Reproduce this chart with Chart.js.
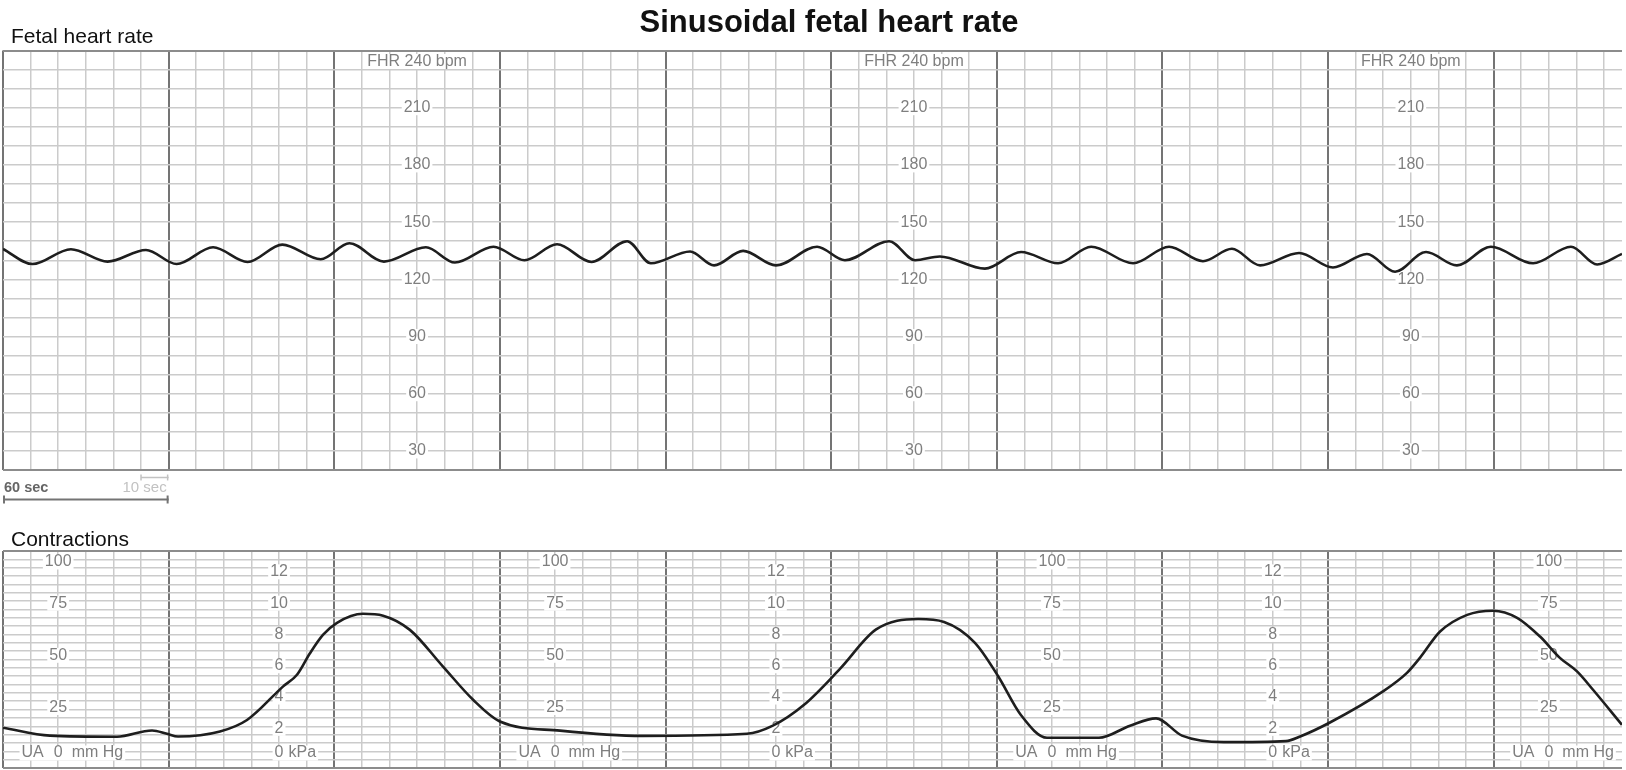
<!DOCTYPE html>
<html>
<head>
<meta charset="utf-8">
<title>Sinusoidal fetal heart rate</title>
<script src="https://cdn.jsdelivr.net/npm/chart.js@4.4.1/dist/chart.umd.min.js"></script>
<style>
  html, body { margin:0; padding:0; background:#ffffff; }
  body { position:relative; width:1626px; height:770px; overflow:hidden; font-family:"Liberation Sans", Arial, Helvetica, sans-serif; }
  canvas { position:absolute; left:0; }
  #c1 { top:0; }
  #c2 { top:515px; }
  .txt { position:absolute; white-space:nowrap; color:#111; z-index:2; }
  #title { left:0; width:1658px; text-align:center; top:5.5px; font-size:31px; line-height:31px; font-weight:bold; }
  #fhrLabel { left:11px; top:25px; font-size:21px; line-height:21px; }
  #ucLabel { left:11px; top:528px; font-size:21px; line-height:21px; }
</style>
</head>
<body>
<div class="txt" id="title">Sinusoidal fetal heart rate</div>
<div class="txt" id="fhrLabel">Fetal heart rate</div>
<div class="txt" id="ucLabel">Contractions</div>
<canvas id="c1" width="1626" height="515"></canvas>
<canvas id="c2" width="1626" height="255"></canvas>
<script>
// ---------------- data (time in seconds along the strip) ----------------
const fhrSeconds = [0, 10.7, 24.6, 37.9, 51.8, 62.9, 76.1, 88.6, 101.2, 115.1, 125.5, 138.0, 153.2, 163.7, 177.7, 188.9, 200.7, 213.2,
  226.1, 234.7, 248.9, 257.6, 268.1, 280.0, 294.9, 305.0, 321.0, 330.4, 339.4, 355.7, 368.8, 382.2, 394.2, 409.4, 422.4, 434.7,
  445.2, 455.4, 469.5, 481.8, 494.1, 504.3, 515.5, 526.7, 539.0, 554.3, 568.0, 577.5, 586.5];
const fhrBpm = [135.9, 128, 135.8, 129.3, 135.4, 128, 136.8, 129.1, 138.2, 130.5, 138.9, 129.3, 136.8, 128.8, 137.1, 130, 138.4, 129.1,
  140, 128.4, 134.6, 127.3, 134.9, 127.3, 137.1, 130, 140, 130, 132, 125.6, 134.3, 128.4, 137.1, 128.4, 137.1, 129.5,
  136, 127.3, 133.8, 126.2, 133.3, 124, 134.3, 127.3, 137.1, 128.4, 137.1, 127.8, 133.3];

const ucSeconds = [0, 17.0, 41.3, 54.0, 59.4, 63.4, 78.6, 88.4, 101.4, 106.5, 111.2, 115.9, 121.0, 130.4, 137.7, 147.4, 159.4, 170.3, 180.0,
  201.8, 231.8, 269.5, 278.9, 290.2, 303.2, 316.3, 331.5, 340.9, 352.1, 360.5, 368.8, 378.2, 397.0, 408.3, 417.7, 427.1, 442.3,
  464.8, 469.9, 480.7, 499.9, 508.6, 513.3, 520.6, 530.4, 539.8, 548.5, 556.8, 564.0, 570.2, 576.0, 586.5];
const ucMmHg = [15.3, 11.5, 11, 14, 12.4, 11.1, 13.5, 19, 35, 40.7, 51, 59.8, 65.6, 69.9, 69, 62.2, 44.6, 28.7, 18.3,
  13.9, 11.4, 12.4, 16.3, 26.3, 43.5, 62.4, 67.4, 66, 56, 40, 21.3, 10.5, 10.5, 16.3, 19.8, 11.5, 8.4,
  8.9, 11.1, 17.8, 32.7, 41.6, 48.8, 61.4, 69.4, 71.4, 68, 59, 48.8, 42.3, 33.5, 16.7];

// printed scale labels on the paper
const fhrScaleLabels = [210, 180, 150, 120, 90, 60, 30];
const fhrLabelSeconds = [150, 330, 510];
const ucMmHgLabels = [100, 75, 50, 25];
const ucMmHgLabelSeconds = [20, 200, 380, 560];
const ucKpaLabels = [12, 10, 8, 6, 4, 2];
const ucKpaLabelSeconds = [100, 280, 460];

// ---------------- styling ----------------
const FONT = '"Liberation Sans", Arial, Helvetica, sans-serif';
const MINOR = '#cbcbcb', MAJOR = '#747474', EDGE = '#8c8c8c';
const LABEL_COLOR = '#7f7f7f';
const TRACE = '#1e1e1e';
const KPA_TO_MMHG = 7.50062;

function makeTicks(from, to, step) {
  const t = [];
  for (let v = from; v <= to + 1e-9; v += step) t.push({ value: Math.round(v * 1000) / 1000 });
  return t;
}

function xScale() {
  return {
    type: 'linear', min: 0, max: 586.5,
    afterBuildTicks: s => { s.ticks = makeTicks(0, 580, 10); },
    ticks: { display: false },
    grid: {
      drawTicks: false,
      color: c => (c.tick && c.tick.value % 60 === 0) ? MAJOR : MINOR,
      lineWidth: c => (c.tick && c.tick.value % 60 === 0) ? 2 : 1.5
    },
    border: { display: false }
  };
}
function yScale(min, max, step) {
  return {
    type: 'linear', min: min, max: max,
    afterBuildTicks: s => { s.ticks = makeTicks(min, max, step); },
    ticks: { display: false },
    grid: {
      drawTicks: false,
      color: c => (c.tick && (c.tick.value === min || c.tick.value === max)) ? EDGE : MINOR,
      lineWidth: c => (c.tick && (c.tick.value === min || c.tick.value === max)) ? 2 : 1.5
    },
    border: { display: false }
  };
}

// draw a label with white background; "main" is centred on xc, prefix/suffix around it
function tag(ctx, xc, y, main, prefix, gapPre, suffix, gapSuf) {
  const wm = ctx.measureText(main).width;
  const left = xc - wm / 2, right = xc + wm / 2;
  let bl = left, br = right;
  let wp = 0, ws = 0;
  if (prefix) { wp = ctx.measureText(prefix).width; bl = left - gapPre - wp; }
  if (suffix) { ws = ctx.measureText(suffix).width; br = right + gapSuf + ws; }
  ctx.fillStyle = '#ffffff';
  ctx.fillRect(bl - 2, y - 7.5, br - bl + 4, 15);
  ctx.fillStyle = LABEL_COLOR;
  ctx.textAlign = 'left';
  ctx.fillText(main, left, y);
  if (prefix) ctx.fillText(prefix, bl, y);
  if (suffix) ctx.fillText(suffix, right + gapSuf, y);
}
function clampY(a, y) { return Math.max(a.top + 11, Math.min(a.bottom - 15, y)); }

const fhrLabelsPlugin = {
  id: 'fhrLabels',
  beforeDatasetsDraw(chart) {
    const { ctx, chartArea: a, scales: { x, y } } = chart;
    ctx.save();
    ctx.font = '16px ' + FONT;
    ctx.textBaseline = 'middle';
    fhrLabelSeconds.forEach(sec => {
      const xc = x.getPixelForValue(sec);
      tag(ctx, xc, clampY(a, y.getPixelForValue(y.max)), 'FHR 240 bpm');
      fhrScaleLabels.forEach(v => tag(ctx, xc, clampY(a, y.getPixelForValue(v)), String(v)));
    });
    ctx.restore();
  },
  afterDraw(chart) {
    const { ctx, chartArea: a, scales: { x } } = chart;
    const x0 = x.getPixelForValue(0), x50 = x.getPixelForValue(50), x60 = x.getPixelForValue(60);
    const seg = (ax, ay, bx, by) => { ctx.beginPath(); ctx.moveTo(ax, ay); ctx.lineTo(bx, by); ctx.stroke(); };
    ctx.save();
    // 60 sec bar
    const yb = a.bottom + 29.5;
    ctx.strokeStyle = '#747474'; ctx.lineWidth = 2;
    seg(x0, yb, x60, yb); seg(x0 + 1, yb - 4, x0 + 1, yb + 4); seg(x60 - 1, yb - 4, x60 - 1, yb + 4);
    ctx.font = 'bold 14.5px ' + FONT; ctx.fillStyle = '#666666'; ctx.textBaseline = 'middle'; ctx.textAlign = 'left';
    ctx.fillText('60 sec', x0 + 1, a.bottom + 18);
    // 10 sec bracket
    const yt = a.bottom + 7.5;
    ctx.strokeStyle = '#c2c2c2'; ctx.lineWidth = 1.5;
    seg(x50, yt, x60, yt); seg(x50, yt - 3, x50, yt + 3); seg(x60 - 1, yt - 3, x60 - 1, yt + 3);
    ctx.font = '15px ' + FONT; ctx.fillStyle = '#c2c2c2'; ctx.textAlign = 'right';
    ctx.fillText('10 sec', x60 - 2, a.bottom + 18);
    ctx.restore();
  }
};

const ucLabelsPlugin = {
  id: 'ucLabels',
  beforeDatasetsDraw(chart) {
    const { ctx, chartArea: a, scales: { x, y } } = chart;
    ctx.save();
    ctx.font = '16px ' + FONT;
    ctx.textBaseline = 'middle';
    ucMmHgLabelSeconds.forEach(sec => {
      const xc = x.getPixelForValue(sec);
      ucMmHgLabels.forEach(v => tag(ctx, xc, clampY(a, y.getPixelForValue(v)), String(v)));
      tag(ctx, xc, clampY(a, y.getPixelForValue(0)), '0', 'UA', 10, 'mm Hg', 9);
    });
    ucKpaLabelSeconds.forEach(sec => {
      const xc = x.getPixelForValue(sec);
      ucKpaLabels.forEach(v => tag(ctx, xc, clampY(a, y.getPixelForValue(v * KPA_TO_MMHG)), String(v)));
      tag(ctx, xc, clampY(a, y.getPixelForValue(0)), '0', null, 0, 'kPa', 5);
    });
    ctx.restore();
  }
};

const common = {
  responsive: false, maintainAspectRatio: false, animation: false,
  plugins: { legend: { display: false }, tooltip: { enabled: false } },
  elements: { point: { radius: 0 } }
};

new Chart(document.getElementById('c1'), {
  type: 'line',
  data: { datasets: [{
    data: fhrSeconds.map((s, i) => ({ x: s, y: fhrBpm[i] })),
    borderColor: TRACE, borderWidth: 2.6, cubicInterpolationMode: 'monotone', fill: false, pointRadius: 0
  }] },
  options: Object.assign({}, common, {
    layout: { padding: { left: 3, right: 4, top: 50.5, bottom: 45 } },
    scales: { x: xScale(), y: yScale(20, 240, 10) }
  }),
  plugins: [fhrLabelsPlugin]
});

new Chart(document.getElementById('c2'), {
  type: 'line',
  data: { datasets: [{
    data: ucSeconds.map((s, i) => ({ x: s, y: ucMmHg[i] })),
    borderColor: TRACE, borderWidth: 2.6, cubicInterpolationMode: 'monotone', fill: false, pointRadius: 0
  }] },
  options: Object.assign({}, common, {
    layout: { padding: { left: 3, right: 4, top: 36, bottom: 2 } },
    scales: { x: xScale(), y: yScale(-4, 100, 4) }
  }),
  plugins: [ucLabelsPlugin]
});
</script>
</body>
</html>
